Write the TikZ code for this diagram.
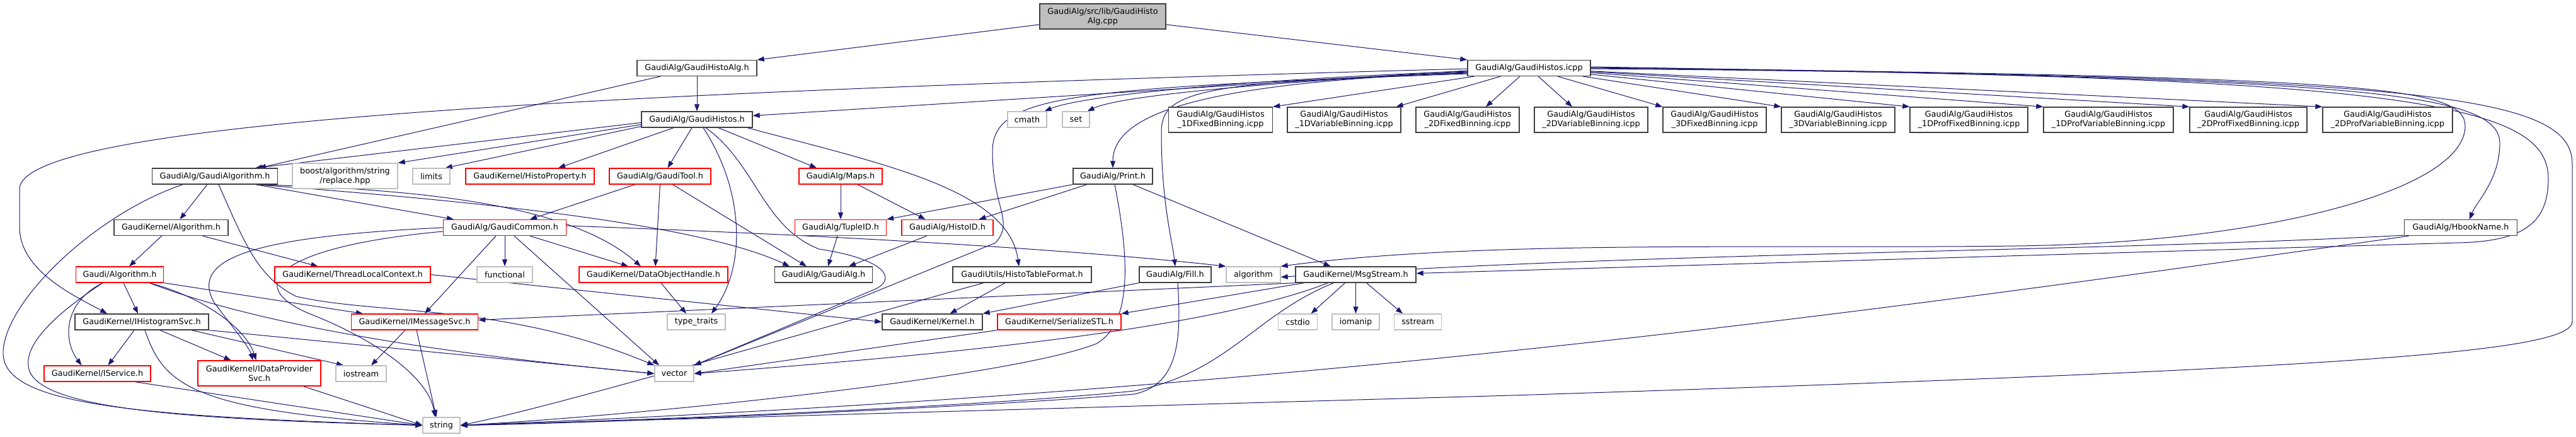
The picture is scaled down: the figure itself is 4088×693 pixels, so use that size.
\documentclass[tikz,border=0pt]{standalone}
\usepackage{fontspec}
\setmainfont{DejaVu Sans}
\usetikzlibrary{arrows.meta,backgrounds}
\definecolor{edgecol}{HTML}{191970}
\definecolor{boxcol}{HTML}{404040}
\definecolor{extcol}{HTML}{BFBFBF}
\tikzset{
  file/.style={draw=boxcol, fill=white, line width=1.3pt, inner sep=0pt, minimum height=25pt,
    align=center, font=\fontsize{12.8}{15}\selectfont},
  filered/.style={file, draw=red},
  fileext/.style={file, draw=extcol},
  fileroot/.style={file, fill=extcol},
  incl/.style={draw=edgecol, line width=1pt, -{Triangle[length=11pt,width=8pt]}},
}
\begin{document}
\begin{tikzpicture}[x=1pt,y=-1pt]
    \pgfmathsetmacro{\rowa}{26}
    \pgfmathsetmacro{\rowb}{108}
    \pgfmathsetmacro{\rowc}{189.5}
    \pgfmathsetmacro{\rowd}{279.5}
    \pgfmathsetmacro{\rowe}{361}
    \pgfmathsetmacro{\rowf}{435.5}
    \pgfmathsetmacro{\rowg}{510.5}
    \pgfmathsetmacro{\rowh}{592.5}
    \pgfmathsetmacro{\rowi}{674.5}
    \node[fileroot, minimum width=200pt, minimum height=40pt] (root) at (1750,\rowa) {GaudiAlg/src/lib/GaudiHisto\\Alg.cpp};
    \node[file, minimum width=190pt] (histoalg) at (1106,\rowb) {GaudiAlg/GaudiHistoAlg.h};
    \node[file, minimum width=195pt] (icpp) at (2426.5,\rowb) {GaudiAlg/GaudiHistos.icpp};
    \node[file, minimum width=176pt] (histos) at (1106,\rowc) {GaudiAlg/GaudiHistos.h};
    \node[fileext, minimum width=62pt] (cmath) at (1630,\rowc) {cmath};
    \node[fileext, minimum width=43pt] (set) at (1707.5,\rowc) {set};
    \node[file, minimum width=165pt, minimum height=40pt] (bina) at (1937,190) {GaudiAlg/GaudiHistos\\\_1DFixedBinning.icpp};
    \node[file, minimum width=180pt, minimum height=40pt] (binb) at (2133,190) {GaudiAlg/GaudiHistos\\\_1DVariableBinning.icpp};
    \node[file, minimum width=164pt, minimum height=40pt] (binc) at (2329,190) {GaudiAlg/GaudiHistos\\\_2DFixedBinning.icpp};
    \node[file, minimum width=180pt, minimum height=40pt] (bind) at (2525,190) {GaudiAlg/GaudiHistos\\\_2DVariableBinning.icpp};
    \node[file, minimum width=164pt, minimum height=40pt] (bine) at (2721,190) {GaudiAlg/GaudiHistos\\\_3DFixedBinning.icpp};
    \node[file, minimum width=180pt, minimum height=40pt] (binf) at (2917,190) {GaudiAlg/GaudiHistos\\\_3DVariableBinning.icpp};
    \node[file, minimum width=187pt, minimum height=40pt] (bing) at (3124.5,190) {GaudiAlg/GaudiHistos\\\_1DProfFixedBinning.icpp};
    \node[file, minimum width=206pt, minimum height=40pt] (binh) at (3346,190) {GaudiAlg/GaudiHistos\\\_1DProfVariableBinning.icpp};
    \node[file, minimum width=186pt, minimum height=40pt] (bini) at (3568,190) {GaudiAlg/GaudiHistos\\\_2DProfFixedBinning.icpp};
    \node[file, minimum width=206pt, minimum height=40pt] (binj) at (3789,190) {GaudiAlg/GaudiHistos\\\_2DProfVariableBinning.icpp};
    \node[file, minimum width=199pt] (gaudialgo) at (341,\rowd) {GaudiAlg/GaudiAlgorithm.h};
    \node[fileext, minimum width=167pt, minimum height=40pt] (boost) at (547.5,279) {boost/algorithm/string\\/replace.hpp};
    \node[fileext, minimum width=59pt] (limits) at (684.5,\rowd) {limits};
    \node[filered, minimum width=204pt] (histoprop) at (841,\rowd) {GaudiKernel/HistoProperty.h};
    \node[filered, minimum width=161pt] (gauditool) at (1047.5,\rowd) {GaudiAlg/GaudiTool.h};
    \node[filered, minimum width=132pt] (maps) at (1334,\rowd) {GaudiAlg/Maps.h};
    \node[file, minimum width=126pt] (print) at (1766,\rowd) {GaudiAlg/Print.h};
    \node[file, minimum width=181pt] (kalgo) at (271.5,\rowe) {GaudiKernel/Algorithm.h};
    \node[filered, minimum width=194.5pt] (common) at (801,\rowe) {GaudiAlg/GaudiCommon.h};
    \node[filered, minimum width=145pt] (tupleid) at (1334,\rowe) {GaudiAlg/TupleID.h};
    \node[filered, minimum width=145pt] (histoid) at (1503.5,\rowe) {GaudiAlg/HistoID.h};
    \node[file, minimum width=179pt] (hbook) at (3905,\rowe) {GaudiAlg/HbookName.h};
    \node[filered, minimum width=139.5pt] (galgo) at (190,\rowf) {Gaudi/Algorithm.h};
    \node[filered, minimum width=247pt] (tlc) at (559.5,\rowf) {GaudiKernel/ThreadLocalContext.h};
    \node[fileext, minimum width=88pt] (functional) at (801,\rowf) {functional};
    \node[filered, minimum width=236pt] (dataobj) at (1037,\rowf) {GaudiKernel/DataObjectHandle.h};
    \node[file, minimum width=155pt] (gaudialg) at (1307,\rowf) {GaudiAlg/GaudiAlg.h};
    \node[file, minimum width=220pt] (histotab) at (1622,\rowf) {GaudiUtils/HistoTableFormat.h};
    \node[file, minimum width=114pt] (fill) at (1865,\rowf) {GaudiAlg/Fill.h};
    \node[fileext, minimum width=86pt] (algorithm) at (1989,\rowf) {algorithm};
    \node[file, minimum width=191pt] (msgstream) at (2151.5,\rowf) {GaudiKernel/MsgStream.h};
    \node[file, minimum width=212pt] (histsvc) at (225,\rowg) {GaudiKernel/IHistogramSvc.h};
    \node[filered, minimum width=201pt] (msgsvc) at (658,\rowg) {GaudiKernel/IMessageSvc.h};
    \node[fileext, minimum width=92pt] (typetraits) at (1105,\rowg) {type\_traits};
    \node[file, minimum width=159pt] (kernel) at (1479.5,\rowg) {GaudiKernel/Kernel.h};
    \node[filered, minimum width=196pt] (serial) at (1681,\rowg) {GaudiKernel/SerializeSTL.h};
    \node[fileext, minimum width=62pt] (cstdio) at (2059.5,\rowg) {cstdio};
    \node[fileext, minimum width=75pt] (iomanip) at (2151.5,\rowg) {iomanip};
    \node[fileext, minimum width=74.5pt] (sstream) at (2250,\rowg) {sstream};
    \node[filered, minimum width=169pt] (service) at (154.5,\rowh) {GaudiKernel/IService.h};
    \node[filered, minimum width=195pt, minimum height=40pt] (dataprov) at (411.5,592) {GaudiKernel/IDataProvider\\Svc.h};
    \node[fileext, minimum width=80pt] (iostream) at (573,\rowh) {iostream};
    \node[fileext, minimum width=62pt] (vector) at (1070,\rowh) {vector};
    \node[fileext, minimum width=59pt] (string) at (700.5,\rowi) {string};
    \begin{pgfonlayer}{background}
    \path[use as bounding box, fill=white] (0,0) rectangle (4088,693);
    \draw[incl] ([yshift=-13pt]root.west) -- (histoalg.north east);
    \draw[incl] ([yshift=-13pt]root.east) -- (icpp.north west);
    \draw[incl] (histoalg) -- (histos);
    \draw[incl] ([xshift=-58pt]histoalg.south) -- ([xshift=70pt]gaudialgo.north);
    \draw[incl] ([yshift=-5pt]histos.west) -- ([xshift=64pt]gaudialgo.north);
    \draw[incl] ([yshift=-8pt]histos.west) -- (boost.north east);
    \draw[incl] ([yshift=-11pt]histos.west) -- ([xshift=-8pt]limits.north east);
    \draw[incl] ([xshift=-37pt]histos.south) -- ([xshift=45pt]histoprop.north);
    \draw[incl] ([xshift=-8pt]histos.south) -- ([xshift=12pt]gauditool.north);
    \draw[incl] ([xshift=34pt]histos.south) -- ([xshift=-38pt]maps.north);
    \draw[incl] ([xshift=10pt]histos.south) .. controls (1180,300) and (1185,420) .. ([xshift=24pt]typetraits.north);
    \draw[incl] ([xshift=14pt]histos.south) .. controls (1200,260) and (1210,360) .. (1300,395) .. controls (1400,410) and (1425,440) .. (1390,458) -- (vector.north east);
    \draw[incl] ([xshift=80pt]histos.south) .. controls (1400,260) and (1600,300) .. ([xshift=-5pt]histotab.north);
    \draw[incl] ([yshift=-4pt]icpp.west) -- ([yshift=6pt]histos.east);
    \draw[incl] ([yshift=-1pt]icpp.west) .. controls (1000,145) and (31,190) .. (31,300) -- (31,360) .. controls (31,430) and (120,470) .. ([xshift=-55pt]histsvc.north);
    \draw[incl] ([yshift=-5pt]icpp.west) .. controls (2000,125) and (1720,150) .. ([xshift=-4pt]cmath.north east);
    \draw[incl] ([yshift=-6pt]icpp.west) .. controls (2050,128) and (1780,150) .. ([xshift=-4pt]set.north east);
    \draw[incl] ([yshift=-7pt]icpp.west) .. controls (1950,130) and (1766,170) .. (print.north);
    \draw[incl] ([yshift=-8pt]icpp.west) .. controls (1900,130) and (1843,145) .. (1843,210) .. controls (1843,320) and (1860,380) .. (fill.north);
    \draw[incl] ([yshift=-9pt]icpp.west) .. controls (1700,140) and (1575,150) .. (1575,240) .. controls (1575,330) and (1610,350) .. (1580,385) -- (vector.north east);
    \draw[incl] (icpp) -- (bina.north east);
    \draw[incl] (icpp) -- ([xshift=-8pt]binb.north east);
    \draw[incl] (icpp) -- ([xshift=29pt]binc.north);
    \draw[incl] (icpp) -- ([xshift=-30pt]bind.north);
    \draw[incl] (icpp) -- (bine.north west);
    \draw[incl] (icpp) -- (binf.north west);
    \draw[incl] (icpp) -- (bing.north west);
    \draw[incl] (icpp) -- (binh.north west);
    \draw[incl] (icpp) -- (bini.north west);
    \draw[incl] (icpp) -- (binj.north west);
    \draw[incl] ([yshift=2pt]icpp.east) .. controls (3700,125) and (3967,140) .. (3967,227) .. controls (3967,285) and (3930,320) .. ([xshift=14pt]hbook.north);
    \draw[incl] ([yshift=1pt]icpp.east) .. controls (3750,122) and (3912,135) .. (3912,200) .. controls (3912,300) and (3600,385) .. (3200,390) .. controls (2800,395) and (2350,380) .. (algorithm.north east);
    \draw[incl] (icpp.east) .. controls (3800,120) and (4044,160) .. (4044,283) .. controls (4044,350) and (4010,383) .. (3900,385) -- ([yshift=2pt]msgstream.east);
    \draw[incl] ([yshift=-1pt]icpp.east) .. controls (3850,120) and (4082,150) .. (4082,260) -- (4082,510) .. controls (4082,560) and (3700,585) .. (2400,627) -- (string.east);
    \draw[incl] ([yshift=1pt]hbook.south west) .. controls (3300,400) and (2600,400) .. ([yshift=-4pt]algorithm.east);
    \draw[incl] ([xshift=8pt]hbook.south west) .. controls (3000,490) and (2100,620) .. (string.east);
    \draw[incl] ([xshift=-12pt]gaudialgo.south) -- ([xshift=14pt]kalgo.north);
    \draw[incl] ([xshift=-51pt]gaudialgo.south) .. controls (150,340) and (5,480) .. (5,560) .. controls (5,640) and (200,660) .. (string.west);
    \draw[incl] ([xshift=6pt]gaudialgo.south) .. controls (390,390) and (410,440) .. (470,470) .. controls (600,500) and (800,480) .. (vector.north west);
    \draw[incl] ([xshift=65pt]gaudialgo.south) -- ([xshift=-81pt]common.north);
    \draw[incl] ([xshift=65pt]gaudialgo.south) .. controls (650,300) and (900,320) .. ([xshift=-20pt]dataobj.north);
    \draw[incl] ([xshift=65pt]gaudialgo.south) .. controls (700,315) and (1100,350) .. ([xshift=-54pt]gaudialg.north);
    \draw[incl] ([xshift=-15pt]kalgo.south) -- ([xshift=15pt]galgo.north);
    \draw[incl] ([xshift=50pt]kalgo.south) -- ([xshift=-55pt]tlc.north);
    \draw[incl] ([xshift=-27pt]galgo.south) .. controls (100,480) and (100,540) .. ([xshift=-25pt]service.north);
    \draw[incl] ([xshift=-27pt]galgo.south) .. controls (100,490) and (40,540) .. (45,580) .. controls (50,650) and (300,665) .. (string.west);
    \draw[incl] ([xshift=6pt]galgo.south) -- ([xshift=-6pt]histsvc.north);
    \draw[incl] ([xshift=47pt]galgo.south) .. controls (320,470) and (390,520) .. ([xshift=-5pt]dataprov.north);
    \draw[incl] ([xshift=47pt]galgo.south) .. controls (450,530) and (800,570) .. (vector.west);
    \draw[incl] (galgo.south east) -- ([xshift=-82pt]msgsvc.north);
    \draw[incl] ([xshift=-12pt]histsvc.south) -- ([xshift=17pt]service.north);
    \draw[incl] ([xshift=5pt]histsvc.south) .. controls (260,610) and (300,650) .. (string.west);
    \draw[incl] ([xshift=29pt]histsvc.south) -- ([xshift=-45pt]dataprov.north);
    \draw[incl] ([xshift=79pt]histsvc.south) -- ([xshift=-28pt]iostream.north);
    \draw[incl] (histsvc.south east) -- (vector.west);
    \draw[incl] ([xshift=60pt]service.south) -- (string.west);
    \draw[incl] ([xshift=70pt]dataprov.south) -- (string.west);
    \draw[incl] (tlc.east) -- (kernel.west);
    \draw[incl] ([xshift=-15pt]msgsvc.south) -- ([xshift=16pt]iostream.north);
    \draw[incl] ([xshift=3pt]msgsvc.south) -- ([xshift=-8pt]string.north);
    \draw[incl] (common.west) .. controls (400,375) and (300,410) .. (340,480) .. controls (370,520) and (395,550) .. ([xshift=-10pt]dataprov.north);
    \draw[incl] ([yshift=-6pt]common.west) .. controls (450,390) and (380,450) .. (490,497) .. controls (600,540) and (680,600) .. ([xshift=-10pt]string.north);
    \draw[incl] ([xshift=-14pt]common.south) -- ([xshift=16pt]msgsvc.north);
    \draw[incl] (common) -- (functional);
    \draw[incl] ([xshift=15pt]common.south) -- ([xshift=-24pt]vector.north);
    \draw[incl] ([xshift=40pt]common.south) -- ([xshift=-40pt]dataobj.north);
    \draw[incl] ([yshift=3pt]common.east) .. controls (1300,372) and (1700,395) .. (algorithm.north west);
    \draw[incl] ([xshift=-40pt]gauditool.south) -- ([xshift=40pt]common.north);
    \draw[incl] (gauditool.south) -- ([xshift=3pt]dataobj.north);
    \draw[incl] ([xshift=20pt]gauditool.south) -- ([xshift=-27pt]gaudialg.north);
    \draw[incl] (maps) -- (tupleid);
    \draw[incl] ([xshift=27pt]maps.south) -- ([xshift=-35pt]histoid.north);
    \draw[incl] (print.south west) -- (tupleid.north east);
    \draw[incl] ([xshift=-41pt]print.south) -- ([xshift=50pt]histoid.north);
    \draw[incl] ([xshift=32pt]print.south) -- ([xshift=-40pt]msgstream.north);
    \draw[incl] ([xshift=3pt]print.south) .. controls (1790,400) and (1800,510) .. (1740,545) .. controls (1600,600) and (1000,660) .. (string.east);
    \draw[incl] ([xshift=-5pt]tupleid.south) -- ([xshift=7pt]gaudialg.north);
    \draw[incl] ([xshift=-33pt]histoid.south) -- ([xshift=40pt]gaudialg.north);
    \draw[incl] ([xshift=12pt]dataobj.south) -- ([xshift=-16pt]typetraits.north);
    \draw[incl] ([xshift=-27pt]histotab.south) -- ([xshift=28pt]kernel.north);
    \draw[incl] ([xshift=-61pt]histotab.south) .. controls (1300,520) and (900,640) .. (string.east);
    \draw[incl] (fill.south west) -- (kernel.north east);
    \draw[incl] ([xshift=4pt]fill.south) .. controls (1875,540) and (1870,610) .. (1800,625) .. controls (1500,650) and (900,672) .. (string.east);
    \draw[incl] ([xshift=-17pt]msgstream.south) -- ([xshift=21pt]cstdio.north);
    \draw[incl] (msgstream) -- (iomanip);
    \draw[incl] ([xshift=17pt]msgstream.south) -- ([xshift=-24pt]sstream.north);
    \draw[incl] (msgstream.south west) -- ([yshift=3pt]msgsvc.east);
    \draw[incl] ([xshift=-82pt]msgstream.south) -- (serial.north east);
    \draw[incl] ([xshift=-44pt]msgstream.south) .. controls (1900,530) and (1400,570) .. (vector.east);
    \draw[incl] ([xshift=-35pt]msgstream.south) .. controls (1990,500) and (1950,590) .. (1800,620) .. controls (1500,650) and (900,670) .. (string.east);
    \draw[incl] (serial.south west) -- (vector.east);
    \end{pgfonlayer}
\end{tikzpicture}
\end{document}
